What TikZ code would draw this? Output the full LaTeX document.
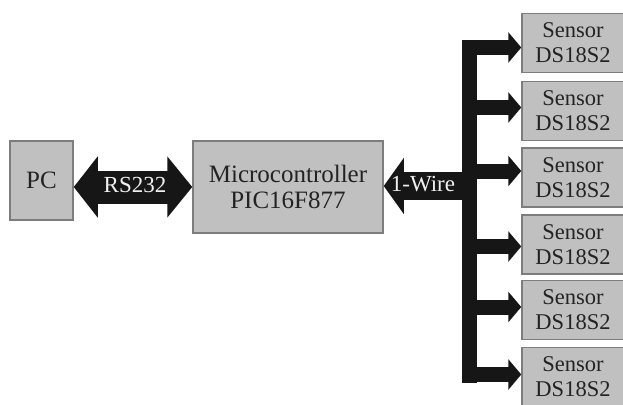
\documentclass[tikz,border=0pt]{standalone}
\usepackage{fontspec}
\setmainfont{Liberation Serif}
\usetikzlibrary{arrows.meta,calc}
\definecolor{boxfill}{RGB}{192,192,192}
\definecolor{boxline}{RGB}{125,125,125}
\definecolor{busc}{RGB}{22,22,22}
\definecolor{txt}{RGB}{35,35,35}
\definecolor{wtxt}{RGB}{240,240,240}
\begin{document}
\begin{tikzpicture}[x=1pt,y=-1pt,
  box/.style={draw=boxline, line width=1.5pt, fill=boxfill, inner sep=0pt,
    text=txt, align=center, font=\fontsize{22.5}{25}\selectfont},
  bigtext/.style={font=\fontsize{25}{27}\selectfont},
  sensorbox/.style={box, minimum width=102pt, minimum height=59pt},
  branch/.style={line width=15pt, busc, -{Triangle[width=30pt,length=13pt]}},
  arrtext/.style={text=wtxt, font=\fontsize{23}{25}\selectfont, inner sep=0pt}]
\fill[white] (0,0) rectangle (623,404);
\useasboundingbox (0,0) rectangle (623,404);
\clip (0,0) rectangle (623,404);

\node[box, bigtext, minimum width=63pt, minimum height=79pt] (pc) at (41.5,180.5) {PC};
\node[box, bigtext, minimum width=190pt, minimum height=92pt] (mc) at (288,187) {Microcontroller\\[-1pt]PIC16F877};

\node[sensorbox] (s1) at (573,43) {Sensor\\DS18S2};
\node[sensorbox] (s2) at (573,111) {Sensor\\DS18S2};
\node[sensorbox] (s3) at (573,177.5) {Sensor\\DS18S2};
\node[sensorbox] (s4) at (573,244.5) {Sensor\\DS18S2};
\node[sensorbox] (s5) at (573,310) {Sensor\\DS18S2};
\node[sensorbox] (s6) at (573,377) {Sensor\\DS18S2};

% RS232 double arrow
\draw[line width=33pt, busc, {Triangle[width=60pt,length=24pt]}-{Triangle[width=60pt,length=25pt]}]
  (mc.west -| pc.east) -- (mc.west);
\node[arrtext] (rs) at (135,185) {RS232};

% bus
\coordinate (bt) at (469.5,40);
\coordinate (bb) at (469.5,383);
\draw[line width=15pt, busc] (bt) -- (bb);

% 1-Wire arrow
\coordinate (wj) at (477,186);
\draw[line width=28pt, busc, -{Triangle[width=55pt,length=20pt]}] (wj) -- (wj -| mc.east);
\node[arrtext] (ow) at (423,184) {1-Wire};

% branches
\foreach \i/\y in {1/47.5,2/107.5,3/171,4/246.5,5/307,6/374.5}{
  \coordinate (b\i) at (462,\y);
  \draw[branch] (b\i) -- (b\i -| s\i.west);
}
\end{tikzpicture}
\end{document}
